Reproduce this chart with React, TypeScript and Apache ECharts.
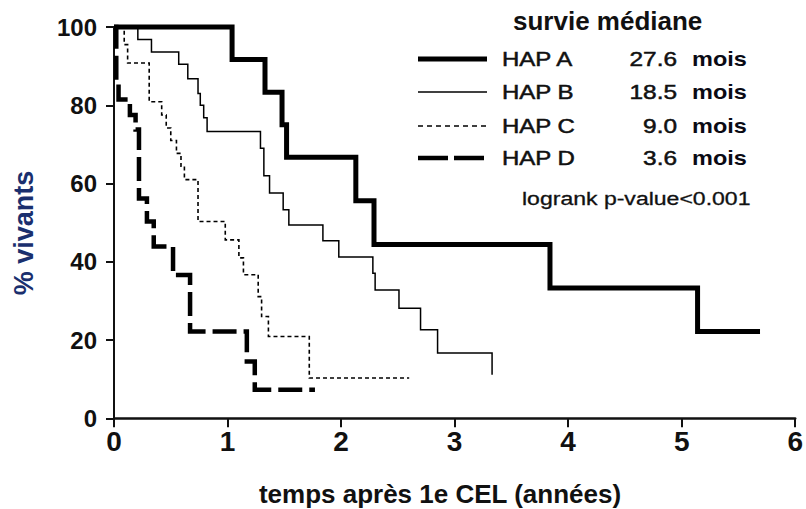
import React, { useEffect, useRef } from "react";
import * as echarts from "echarts";

// Kaplan-Meier survival (time in years, % alive)
const timesA = [0, 1.04, 1.33, 1.48, 1.52, 2.13, 2.29, 3.84, 5.14, 5.69];
const survA = [100, 91.7, 83.3, 75.0, 66.7, 55.6, 44.4, 33.3, 22.2, 22.2];

const timesB = [0, 0.21, 0.33, 0.57, 0.65, 0.74, 0.76, 0.79, 0.82, 1.29, 1.32, 1.37, 1.49, 1.54, 1.84, 1.98, 2.28, 2.3, 2.51, 2.7, 2.85, 3.33];
const survB = [100, 96.8, 93.6, 90.5, 86.8, 83.0, 80.0, 76.8, 73.3, 69.0, 62.0, 57.6, 53.3, 49.4, 45.4, 41.2, 37.1, 32.8, 28.1, 22.6, 16.7, 11.1];

const timesC = [0, 0.09, 0.12, 0.31, 0.42, 0.46, 0.5, 0.55, 0.59, 0.62, 0.74, 0.98, 1.1, 1.14, 1.27, 1.3, 1.36, 1.72, 2.6];
const survC = [100, 95.5, 90.8, 80.9, 77.5, 74.2, 71.0, 67.7, 64.4, 61.0, 50.3, 45.6, 41.0, 36.7, 31.1, 26.0, 20.9, 10.3, 10.3];

const timesD = [0, 0.02, 0.04, 0.14, 0.19, 0.22, 0.29, 0.35, 0.52, 0.67, 1.17, 1.24, 1.77];
const survD = [100, 86.0, 81.5, 77.5, 73.8, 56.2, 50.3, 43.9, 36.6, 22.2, 14.5, 7.3, 7.3];

const groupNames = ["HAP A", "HAP B", "HAP C", "HAP D"];
const medians = ["27.6", "18.5", "9.0", "3.6"];
const unit = "mois";
const legendTitle = "survie médiane";
const pValueText = "logrank p-value<0.001";
const xTitle = "temps après 1e CEL (années)";
const yTitle = "% vivants";

const FONT = "'Liberation Sans', Arial, Helvetica, sans-serif";

const styles = [
  { width: 5, type: "solid" as any },
  { width: 1.5, type: "solid" as any },
  { width: 1.6, type: [4, 3] as any },
  { width: 4.5, type: [24, 7] as any },
];
const legendDash = [
  { width: 5, type: "solid" as any },
  { width: 1.5, type: "solid" as any },
  { width: 1.6, type: [5, 4] as any },
  { width: 4.5, type: [30, 6] as any },
];

function zip(t: number[], s: number[]) {
  return t.map((v, i) => [v, s[i]]);
}

export default function App() {
  const ref = useRef<HTMLDivElement>(null);
  useEffect(() => {
    document.body.style.margin = "0";
    const chart = echarts.init(ref.current!, null, { renderer: "svg" });
    const seriesData = [zip(timesA, survA), zip(timesB, survB), zip(timesC, survC), zip(timesD, survD)];
    const rowY = [59, 92, 126, 158];
    const graphic: any[] = [
      {
        type: "text",
        x: 513,
        y: 21,
        style: { text: legendTitle, font: `bold 26px ${FONT}`, fill: "#111", align: "left", verticalAlign: "middle" },
      },
      {
        type: "text",
        x: 522,
        y: 198,
        scaleX: 1.28,
        style: { text: pValueText, font: `18px ${FONT}`, fill: "#111", stroke: "#111", lineWidth: 0.3, align: "left", verticalAlign: "middle" },
      },
      {
        type: "text",
        x: 24,
        y: 233,
        rotation: Math.PI / 2,
        style: { text: yTitle, font: `bold 27px ${FONT}`, fill: "#1a2f6e", align: "center", verticalAlign: "middle" },
      },
      {
        type: "text",
        x: 440,
        y: 494,
        style: { text: xTitle, font: `bold 26px ${FONT}`, fill: "#111", align: "center", verticalAlign: "middle" },
      },
    ];
    groupNames.forEach((name, i) => {
      const ls = legendDash[i];
      graphic.push({
        type: "line",
        shape: { x1: 418, y1: rowY[i], x2: 487, y2: rowY[i] },
        style: { stroke: "#000", lineWidth: ls.width, lineDash: Array.isArray(ls.type) ? ls.type : null },
      });
      graphic.push({
        type: "text",
        x: 502,
        y: rowY[i],
        scaleX: 1.2,
        style: { text: name, font: `20px ${FONT}`, fill: "#111", stroke: "#111", lineWidth: 0.5, align: "left", verticalAlign: "middle" },
      });
      graphic.push({
        type: "text",
        x: 677,
        y: rowY[i],
        scaleX: 1.22,
        style: { text: medians[i], font: `20px ${FONT}`, fill: "#111", stroke: "#111", lineWidth: 0.5, align: "right", verticalAlign: "middle" },
      });
      graphic.push({
        type: "text",
        x: 692,
        y: rowY[i],
        scaleX: 1.12,
        style: { text: unit, font: `bold 21px ${FONT}`, fill: "#0a0a14", align: "left", verticalAlign: "middle" },
      });
    });

    chart.setOption({
      animation: false,
      backgroundColor: "#fff",
      textStyle: { fontFamily: FONT },
      grid: { left: 114, right: 6, top: 27, bottom: 90.7, containLabel: false },
      xAxis: {
        type: "value",
        min: 0,
        max: 6,
        interval: 1,
        axisLine: { lineStyle: { color: "#111", width: 2.5 } },
        axisTick: { show: true, length: 9, lineStyle: { color: "#111", width: 2 } },
        axisLabel: { fontSize: 28, fontWeight: "bold", color: "#111", margin: 9, fontFamily: FONT },
        splitLine: { show: false },
      },
      yAxis: {
        type: "value",
        min: 0,
        max: 100,
        interval: 20,
        axisLine: { show: true, lineStyle: { color: "#111", width: 2 } },
        axisTick: { show: true, length: 8, lineStyle: { color: "#111", width: 2 } },
        axisLabel: { fontSize: 24, fontWeight: "bold", color: "#111", margin: 17, fontFamily: FONT },
        splitLine: { show: false },
      },
      series: seriesData.map((d, i) => ({
        name: groupNames[i],
        type: "line",
        step: "end",
        data: d,
        showSymbol: false,
        symbol: "none",
        clip: false,
        lineStyle: { color: "#000", width: styles[i].width, type: styles[i].type, cap: "butt", join: "miter" },
        z: 3,
      })),
      graphic,
    });
    return () => chart.dispose();
  }, []);
  return <div ref={ref} style={{ width: 806, height: 509, background: "#fff" }} />;
}
